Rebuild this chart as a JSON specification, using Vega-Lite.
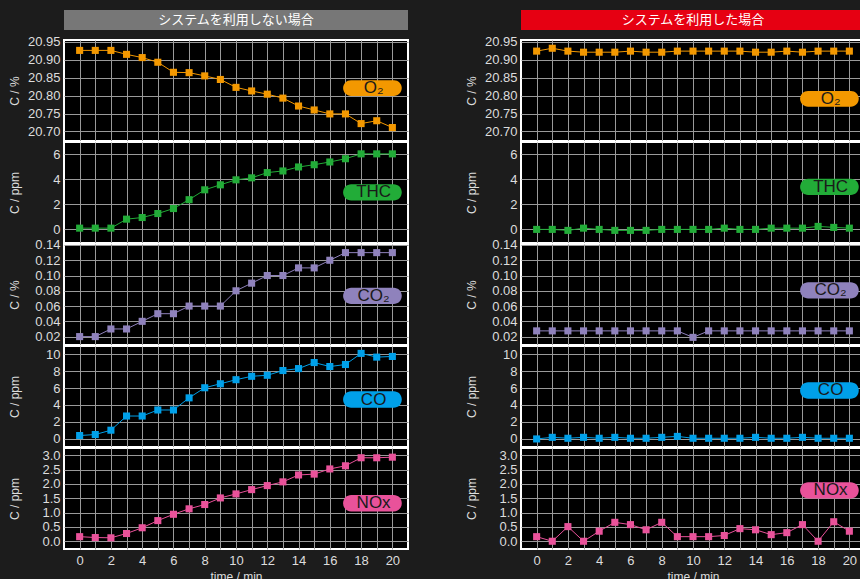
{
  "$schema": "https://vega.github.io/schema/vega-lite/v6.json",
  "background": "#1c1c1c",
  "padding": {"left": 7, "top": 10, "right": 0, "bottom": 0},
  "datasets": {
    "off": [
      {"t": 0, "O2": 20.926, "THC": 0.1, "CO2": 0.02, "CO": 0.4, "NOx": 0.16},
      {"t": 1, "O2": 20.926, "THC": 0.1, "CO2": 0.02, "CO": 0.52, "NOx": 0.13},
      {"t": 2, "O2": 20.926, "THC": 0.1, "CO2": 0.03, "CO": 1.03, "NOx": 0.12},
      {"t": 3, "O2": 20.915, "THC": 0.82, "CO2": 0.03, "CO": 2.7, "NOx": 0.27},
      {"t": 4, "O2": 20.906, "THC": 0.95, "CO2": 0.04, "CO": 2.7, "NOx": 0.47},
      {"t": 5, "O2": 20.893, "THC": 1.27, "CO2": 0.05, "CO": 3.41, "NOx": 0.72},
      {"t": 6, "O2": 20.865, "THC": 1.67, "CO2": 0.05, "CO": 3.41, "NOx": 0.94},
      {"t": 7, "O2": 20.864, "THC": 2.38, "CO2": 0.06, "CO": 4.84, "NOx": 1.13},
      {"t": 8, "O2": 20.855, "THC": 3.17, "CO2": 0.06, "CO": 6.03, "NOx": 1.28},
      {"t": 9, "O2": 20.845, "THC": 3.57, "CO2": 0.06, "CO": 6.5, "NOx": 1.51},
      {"t": 10, "O2": 20.823, "THC": 3.97, "CO2": 0.08, "CO": 6.98, "NOx": 1.65},
      {"t": 11, "O2": 20.813, "THC": 4.13, "CO2": 0.09, "CO": 7.38, "NOx": 1.8},
      {"t": 12, "O2": 20.804, "THC": 4.55, "CO2": 0.1, "CO": 7.5, "NOx": 1.94},
      {"t": 13, "O2": 20.793, "THC": 4.68, "CO2": 0.1, "CO": 8.06, "NOx": 2.07},
      {"t": 14, "O2": 20.771, "THC": 5.0, "CO2": 0.11, "CO": 8.29, "NOx": 2.31},
      {"t": 15, "O2": 20.76, "THC": 5.18, "CO2": 0.11, "CO": 9.0, "NOx": 2.34},
      {"t": 16, "O2": 20.749, "THC": 5.4, "CO2": 0.12, "CO": 8.53, "NOx": 2.52},
      {"t": 17, "O2": 20.749, "THC": 5.66, "CO2": 0.13, "CO": 8.77, "NOx": 2.63},
      {"t": 18, "O2": 20.722, "THC": 6.05, "CO2": 0.13, "CO": 10.08, "NOx": 2.91},
      {"t": 19, "O2": 20.73, "THC": 6.05, "CO2": 0.13, "CO": 9.64, "NOx": 2.91},
      {"t": 20, "O2": 20.711, "THC": 6.05, "CO2": 0.13, "CO": 9.72, "NOx": 2.93}
    ],
    "on": [
      {"t": 0, "O2": 20.924, "THC": 0, "CO2": 0.0275, "CO": 0, "NOx": 0.16},
      {"t": 1, "O2": 20.932, "THC": 0, "CO2": 0.0275, "CO": 0.19, "NOx": 0.0},
      {"t": 2, "O2": 20.924, "THC": -0.08, "CO2": 0.0275, "CO": 0.08, "NOx": 0.51},
      {"t": 3, "O2": 20.921, "THC": 0.1, "CO2": 0.0275, "CO": 0.19, "NOx": 0.0},
      {"t": 4, "O2": 20.921, "THC": 0, "CO2": 0.0275, "CO": 0.08, "NOx": 0.35},
      {"t": 5, "O2": 20.921, "THC": -0.08, "CO2": 0.0275, "CO": 0.19, "NOx": 0.66},
      {"t": 6, "O2": 20.924, "THC": -0.08, "CO2": 0.0275, "CO": 0.08, "NOx": 0.58},
      {"t": 7, "O2": 20.921, "THC": -0.08, "CO2": 0.0275, "CO": 0.08, "NOx": 0.4},
      {"t": 8, "O2": 20.921, "THC": 0, "CO2": 0.0275, "CO": 0.19, "NOx": 0.66},
      {"t": 9, "O2": 20.924, "THC": 0, "CO2": 0.0275, "CO": 0.3, "NOx": 0.16},
      {"t": 10, "O2": 20.924, "THC": 0, "CO2": 0.019, "CO": 0.08, "NOx": 0.16},
      {"t": 11, "O2": 20.924, "THC": 0, "CO2": 0.0275, "CO": 0.08, "NOx": 0.16},
      {"t": 12, "O2": 20.924, "THC": 0.1, "CO2": 0.0275, "CO": 0.08, "NOx": 0.2},
      {"t": 13, "O2": 20.924, "THC": 0, "CO2": 0.0275, "CO": 0.08, "NOx": 0.44},
      {"t": 14, "O2": 20.921, "THC": 0, "CO2": 0.0275, "CO": 0.19, "NOx": 0.4},
      {"t": 15, "O2": 20.921, "THC": 0.1, "CO2": 0.0275, "CO": 0.08, "NOx": 0.23},
      {"t": 16, "O2": 20.924, "THC": 0.1, "CO2": 0.0275, "CO": 0.08, "NOx": 0.3},
      {"t": 17, "O2": 20.921, "THC": 0.1, "CO2": 0.0275, "CO": 0.19, "NOx": 0.58},
      {"t": 18, "O2": 20.924, "THC": 0.24, "CO2": 0.0275, "CO": 0.08, "NOx": 0.0},
      {"t": 19, "O2": 20.924, "THC": 0.16, "CO2": 0.0275, "CO": 0.08, "NOx": 0.68},
      {"t": 20, "O2": 20.924, "THC": 0.1, "CO2": 0.0275, "CO": 0.08, "NOx": 0.35}
    ]
  },
  "spacing": 55,
  "hconcat": [
    {
      "spacing": 10,
      "bounds": "flush",
      "vconcat": [
        {
          "width": 344, "height": 20,
          "view": {"fill": "#777777", "stroke": null},
          "data": {"values": [{"title": "システムを利用しない場合"}]},
          "mark": {"type": "text", "color": "white", "fontSize": 13, "font": "Noto Sans CJK JP"},
          "encoding": {"text": {"field": "title"}}
        },
        {
          "spacing": 1,
          "bounds": "flush",
          "vconcat": [
            {
              "width": 344, "height": 101,
              "layer": [
                {"data": {"name": "off"}, "mark": {"type": "line", "color": "#f39800", "strokeWidth": 1},
                 "encoding": {
                   "x": {"field": "t", "type": "quantitative", "scale": {"domain": [-1, 21], "nice": false}, "axis": {"values": [0,1,2,3,4,5,6,7,8,9,10,11,12,13,14,15,16,17,18,19,20], "labels": false, "title": null}},
                   "y": {"field": "O2", "type": "quantitative", "scale": {"domain": [20.6735, 20.955], "nice": false, "zero": false}, "axis": {"title": "C / %", "values": [20.7, 20.75, 20.8, 20.85, 20.9, 20.95], "format": ".2f", "minExtent": 35, "maxExtent": 35, "labelPadding": 4, "titlePadding": 8}}}},
                {"data": {"name": "off"}, "mark": {"type": "point", "shape": "square", "filled": true, "size": 50, "opacity": 1, "color": "#f39800"},
                 "encoding": {
                   "x": {"field": "t", "type": "quantitative", "axis": {"values": [0,1,2,3,4,5,6,7,8,9,10,11,12,13,14,15,16,17,18,19,20], "labels": false, "title": null}},
                   "y": {"field": "O2", "type": "quantitative", "axis": {"title": "C / %", "values": [20.7, 20.75, 20.8, 20.85, 20.9, 20.95], "format": ".2f", "minExtent": 35, "maxExtent": 35, "labelPadding": 4, "titlePadding": 8}}}},
                {"data": {"values": [{"label": "O₂"}]}, "mark": {"type": "rect", "color": "#f39800", "cornerRadius": 8},
                 "encoding": {
                   "x": {"datum": 16.85, "axis": {"values": [0,1,2,3,4,5,6,7,8,9,10,11,12,13,14,15,16,17,18,19,20], "labels": false, "title": null}}, "x2": {"datum": 20.6},
                   "y": {"datum": 20.799, "axis": {"title": "C / %", "values": [20.7, 20.75, 20.8, 20.85, 20.9, 20.95], "format": ".2f", "minExtent": 35, "maxExtent": 35, "labelPadding": 4, "titlePadding": 8}}, "y2": {"datum": 20.843}}},
                {"data": {"values": [{"label": "O₂"}]}, "mark": {"type": "text", "color": "#1a1a1a", "fontSize": 17, "font": "Liberation Sans", "align": "center", "baseline": "middle"},
                 "encoding": {
                   "x": {"datum": 18.8, "axis": {"values": [0,1,2,3,4,5,6,7,8,9,10,11,12,13,14,15,16,17,18,19,20], "labels": false, "title": null}},
                   "y": {"datum": 20.821, "axis": {"title": "C / %", "values": [20.7, 20.75, 20.8, 20.85, 20.9, 20.95], "format": ".2f", "minExtent": 35, "maxExtent": 35, "labelPadding": 4, "titlePadding": 8}},
                   "text": {"field": "label"}}}
              ]
            },
            {
              "width": 344, "height": 101,
              "layer": [
                {"data": {"name": "off"}, "mark": {"type": "line", "color": "#22ac38", "strokeWidth": 1},
                 "encoding": {
                   "x": {"field": "t", "type": "quantitative", "scale": {"domain": [-1, 21], "nice": false}, "axis": {"values": [0,1,2,3,4,5,6,7,8,9,10,11,12,13,14,15,16,17,18,19,20], "labels": false, "title": null}},
                   "y": {"field": "THC", "type": "quantitative", "scale": {"domain": [-1.09, 7.0], "nice": false, "zero": false}, "axis": {"title": "C / ppm", "values": [0, 2, 4, 6], "minExtent": 35, "maxExtent": 35, "labelPadding": 4, "titlePadding": 8}}}},
                {"data": {"name": "off"}, "mark": {"type": "point", "shape": "square", "filled": true, "size": 50, "opacity": 1, "color": "#22ac38"},
                 "encoding": {
                   "x": {"field": "t", "type": "quantitative", "axis": {"values": [0,1,2,3,4,5,6,7,8,9,10,11,12,13,14,15,16,17,18,19,20], "labels": false, "title": null}},
                   "y": {"field": "THC", "type": "quantitative", "axis": {"title": "C / ppm", "values": [0, 2, 4, 6], "minExtent": 35, "maxExtent": 35, "labelPadding": 4, "titlePadding": 8}}}},
                {"data": {"values": [{"label": "THC"}]}, "mark": {"type": "rect", "color": "#22ac38", "cornerRadius": 8},
                 "encoding": {
                   "x": {"datum": 16.85, "axis": {"values": [0,1,2,3,4,5,6,7,8,9,10,11,12,13,14,15,16,17,18,19,20], "labels": false, "title": null}}, "x2": {"datum": 20.6},
                   "y": {"datum": 2.31, "axis": {"title": "C / ppm", "values": [0, 2, 4, 6], "minExtent": 35, "maxExtent": 35, "labelPadding": 4, "titlePadding": 8}}, "y2": {"datum": 3.61}}},
                {"data": {"values": [{"label": "THC"}]}, "mark": {"type": "text", "color": "#1a1a1a", "fontSize": 17, "font": "Liberation Sans", "align": "center", "baseline": "middle"},
                 "encoding": {
                   "x": {"datum": 18.8, "axis": {"values": [0,1,2,3,4,5,6,7,8,9,10,11,12,13,14,15,16,17,18,19,20], "labels": false, "title": null}},
                   "y": {"datum": 2.96, "axis": {"title": "C / ppm", "values": [0, 2, 4, 6], "minExtent": 35, "maxExtent": 35, "labelPadding": 4, "titlePadding": 8}},
                   "text": {"field": "label"}}}
              ]
            },
            {
              "width": 344, "height": 101,
              "layer": [
                {"data": {"name": "off"}, "mark": {"type": "line", "color": "#8f82bc", "strokeWidth": 1},
                 "encoding": {
                   "x": {"field": "t", "type": "quantitative", "scale": {"domain": [-1, 21], "nice": false}, "axis": {"values": [0,1,2,3,4,5,6,7,8,9,10,11,12,13,14,15,16,17,18,19,20], "labels": false, "title": null}},
                   "y": {"field": "CO2", "type": "quantitative", "scale": {"domain": [0.009, 0.1413], "nice": false, "zero": false}, "axis": {"title": "C / %", "values": [0.02, 0.04, 0.06, 0.08, 0.1, 0.12, 0.14], "format": ".2f", "minExtent": 35, "maxExtent": 35, "labelPadding": 4, "titlePadding": 8}}}},
                {"data": {"name": "off"}, "mark": {"type": "point", "shape": "square", "filled": true, "size": 50, "opacity": 1, "color": "#8f82bc"},
                 "encoding": {
                   "x": {"field": "t", "type": "quantitative", "axis": {"values": [0,1,2,3,4,5,6,7,8,9,10,11,12,13,14,15,16,17,18,19,20], "labels": false, "title": null}},
                   "y": {"field": "CO2", "type": "quantitative", "axis": {"title": "C / %", "values": [0.02, 0.04, 0.06, 0.08, 0.1, 0.12, 0.14], "format": ".2f", "minExtent": 35, "maxExtent": 35, "labelPadding": 4, "titlePadding": 8}}}},
                {"data": {"values": [{"label": "CO₂"}]}, "mark": {"type": "rect", "color": "#8f82bc", "cornerRadius": 8},
                 "encoding": {
                   "x": {"datum": 16.85, "axis": {"values": [0,1,2,3,4,5,6,7,8,9,10,11,12,13,14,15,16,17,18,19,20], "labels": false, "title": null}}, "x2": {"datum": 20.6},
                   "y": {"datum": 0.0626, "axis": {"title": "C / %", "values": [0.02, 0.04, 0.06, 0.08, 0.1, 0.12, 0.14], "format": ".2f", "minExtent": 35, "maxExtent": 35, "labelPadding": 4, "titlePadding": 8}}, "y2": {"datum": 0.084}}},
                {"data": {"values": [{"label": "CO₂"}]}, "mark": {"type": "text", "color": "#1a1a1a", "fontSize": 17, "font": "Liberation Sans", "align": "center", "baseline": "middle"},
                 "encoding": {
                   "x": {"datum": 18.8, "axis": {"values": [0,1,2,3,4,5,6,7,8,9,10,11,12,13,14,15,16,17,18,19,20], "labels": false, "title": null}},
                   "y": {"datum": 0.0733, "axis": {"title": "C / %", "values": [0.02, 0.04, 0.06, 0.08, 0.1, 0.12, 0.14], "format": ".2f", "minExtent": 35, "maxExtent": 35, "labelPadding": 4, "titlePadding": 8}},
                   "text": {"field": "label"}}}
              ]
            },
            {
              "width": 344, "height": 101,
              "layer": [
                {"data": {"name": "off"}, "mark": {"type": "line", "color": "#00a0e9", "strokeWidth": 1},
                 "encoding": {
                   "x": {"field": "t", "type": "quantitative", "scale": {"domain": [-1, 21], "nice": false}, "axis": {"values": [0,1,2,3,4,5,6,7,8,9,10,11,12,13,14,15,16,17,18,19,20], "labels": false, "title": null}},
                   "y": {"field": "CO", "type": "quantitative", "scale": {"domain": [-0.95, 10.95], "nice": false, "zero": false}, "axis": {"title": "C / ppm", "values": [0, 2, 4, 6, 8, 10], "minExtent": 35, "maxExtent": 35, "labelPadding": 4, "titlePadding": 8}}}},
                {"data": {"name": "off"}, "mark": {"type": "point", "shape": "square", "filled": true, "size": 50, "opacity": 1, "color": "#00a0e9"},
                 "encoding": {
                   "x": {"field": "t", "type": "quantitative", "axis": {"values": [0,1,2,3,4,5,6,7,8,9,10,11,12,13,14,15,16,17,18,19,20], "labels": false, "title": null}},
                   "y": {"field": "CO", "type": "quantitative", "axis": {"title": "C / ppm", "values": [0, 2, 4, 6, 8, 10], "minExtent": 35, "maxExtent": 35, "labelPadding": 4, "titlePadding": 8}}}},
                {"data": {"values": [{"label": "CO"}]}, "mark": {"type": "rect", "color": "#00a0e9", "cornerRadius": 8},
                 "encoding": {
                   "x": {"datum": 16.85, "axis": {"values": [0,1,2,3,4,5,6,7,8,9,10,11,12,13,14,15,16,17,18,19,20], "labels": false, "title": null}}, "x2": {"datum": 20.6},
                   "y": {"datum": 3.66, "axis": {"title": "C / ppm", "values": [0, 2, 4, 6, 8, 10], "minExtent": 35, "maxExtent": 35, "labelPadding": 4, "titlePadding": 8}}, "y2": {"datum": 5.62}}},
                {"data": {"values": [{"label": "CO"}]}, "mark": {"type": "text", "color": "#1a1a1a", "fontSize": 17, "font": "Liberation Sans", "align": "center", "baseline": "middle"},
                 "encoding": {
                   "x": {"datum": 18.8, "axis": {"values": [0,1,2,3,4,5,6,7,8,9,10,11,12,13,14,15,16,17,18,19,20], "labels": false, "title": null}},
                   "y": {"datum": 4.64, "axis": {"title": "C / ppm", "values": [0, 2, 4, 6, 8, 10], "minExtent": 35, "maxExtent": 35, "labelPadding": 4, "titlePadding": 8}},
                   "text": {"field": "label"}}}
              ]
            },
            {
              "width": 344, "height": 101,
              "layer": [
                {"data": {"name": "off"}, "mark": {"type": "line", "color": "#e9529a", "strokeWidth": 1},
                 "encoding": {
                   "x": {"field": "t", "type": "quantitative", "scale": {"domain": [-1, 21], "nice": false}, "axis": {"values": [0,1,2,3,4,5,6,7,8,9,10,11,12,13,14,15,16,17,18,19,20], "labelExpr": "datum.value % 2 === 0 ? datum.label : ''", "title": "time / min", "labelPadding": 5, "titlePadding": 4}},
                   "y": {"field": "NOx", "type": "quantitative", "scale": {"domain": [-0.27, 3.25], "nice": false, "zero": false}, "axis": {"title": "C / ppm", "values": [0, 0.5, 1, 1.5, 2, 2.5, 3], "format": ".1f", "minExtent": 35, "maxExtent": 35, "labelPadding": 4, "titlePadding": 8}}}},
                {"data": {"name": "off"}, "mark": {"type": "point", "shape": "square", "filled": true, "size": 50, "opacity": 1, "color": "#e9529a"},
                 "encoding": {
                   "x": {"field": "t", "type": "quantitative", "axis": {"values": [0,1,2,3,4,5,6,7,8,9,10,11,12,13,14,15,16,17,18,19,20], "labelExpr": "datum.value % 2 === 0 ? datum.label : ''", "title": "time / min", "labelPadding": 5, "titlePadding": 4}},
                   "y": {"field": "NOx", "type": "quantitative", "axis": {"title": "C / ppm", "values": [0, 0.5, 1, 1.5, 2, 2.5, 3], "format": ".1f", "minExtent": 35, "maxExtent": 35, "labelPadding": 4, "titlePadding": 8}}}},
                {"data": {"values": [{"label": "NOx"}]}, "mark": {"type": "rect", "color": "#e9529a", "cornerRadius": 8},
                 "encoding": {
                   "x": {"datum": 16.85, "axis": {"values": [0,1,2,3,4,5,6,7,8,9,10,11,12,13,14,15,16,17,18,19,20], "labelExpr": "datum.value % 2 === 0 ? datum.label : ''", "title": "time / min", "labelPadding": 5, "titlePadding": 4}}, "x2": {"datum": 20.6},
                   "y": {"datum": 1.04, "axis": {"title": "C / ppm", "values": [0, 0.5, 1, 1.5, 2, 2.5, 3], "format": ".1f", "minExtent": 35, "maxExtent": 35, "labelPadding": 4, "titlePadding": 8}}, "y2": {"datum": 1.61}}},
                {"data": {"values": [{"label": "NOx"}]}, "mark": {"type": "text", "color": "#1a1a1a", "fontSize": 17, "font": "Liberation Sans", "align": "center", "baseline": "middle"},
                 "encoding": {
                   "x": {"datum": 18.8, "axis": {"values": [0,1,2,3,4,5,6,7,8,9,10,11,12,13,14,15,16,17,18,19,20], "labelExpr": "datum.value % 2 === 0 ? datum.label : ''", "title": "time / min", "labelPadding": 5, "titlePadding": 4}},
                   "y": {"datum": 1.325, "axis": {"title": "C / ppm", "values": [0, 0.5, 1, 1.5, 2, 2.5, 3], "format": ".1f", "minExtent": 35, "maxExtent": 35, "labelPadding": 4, "titlePadding": 8}},
                   "text": {"field": "label"}}}
              ]
            }
          ]
        }
      ]
    },
    {
      "spacing": 10,
      "bounds": "flush",
      "vconcat": [
        {
          "width": 344, "height": 20,
          "view": {"fill": "#e60012", "stroke": null},
          "data": {"values": [{"title": "システムを利用した場合"}]},
          "mark": {"type": "text", "color": "white", "fontSize": 13, "font": "Noto Sans CJK JP"},
          "encoding": {"text": {"field": "title"}}
        },
        {
          "spacing": 1,
          "bounds": "flush",
          "vconcat": [
            {
              "width": 344, "height": 101,
              "layer": [
                {"data": {"name": "on"}, "mark": {"type": "line", "color": "#f39800", "strokeWidth": 1},
                 "encoding": {
                   "x": {"field": "t", "type": "quantitative", "scale": {"domain": [-1, 21], "nice": false}, "axis": {"values": [0,1,2,3,4,5,6,7,8,9,10,11,12,13,14,15,16,17,18,19,20], "labels": false, "title": null}},
                   "y": {"field": "O2", "type": "quantitative", "scale": {"domain": [20.6735, 20.955], "nice": false, "zero": false}, "axis": {"title": "C / %", "values": [20.7, 20.75, 20.8, 20.85, 20.9, 20.95], "format": ".2f", "minExtent": 35, "maxExtent": 35, "labelPadding": 4, "titlePadding": 8}}}},
                {"data": {"name": "on"}, "mark": {"type": "point", "shape": "square", "filled": true, "size": 50, "opacity": 1, "color": "#f39800"},
                 "encoding": {
                   "x": {"field": "t", "type": "quantitative", "axis": {"values": [0,1,2,3,4,5,6,7,8,9,10,11,12,13,14,15,16,17,18,19,20], "labels": false, "title": null}},
                   "y": {"field": "O2", "type": "quantitative", "axis": {"title": "C / %", "values": [20.7, 20.75, 20.8, 20.85, 20.9, 20.95], "format": ".2f", "minExtent": 35, "maxExtent": 35, "labelPadding": 4, "titlePadding": 8}}}},
                {"data": {"values": [{"label": "O₂"}]}, "mark": {"type": "rect", "color": "#f39800", "cornerRadius": 8},
                 "encoding": {
                   "x": {"datum": 16.85, "axis": {"values": [0,1,2,3,4,5,6,7,8,9,10,11,12,13,14,15,16,17,18,19,20], "labels": false, "title": null}}, "x2": {"datum": 20.6},
                   "y": {"datum": 20.769, "axis": {"title": "C / %", "values": [20.7, 20.75, 20.8, 20.85, 20.9, 20.95], "format": ".2f", "minExtent": 35, "maxExtent": 35, "labelPadding": 4, "titlePadding": 8}}, "y2": {"datum": 20.813}}},
                {"data": {"values": [{"label": "O₂"}]}, "mark": {"type": "text", "color": "#1a1a1a", "fontSize": 17, "font": "Liberation Sans", "align": "center", "baseline": "middle"},
                 "encoding": {
                   "x": {"datum": 18.8, "axis": {"values": [0,1,2,3,4,5,6,7,8,9,10,11,12,13,14,15,16,17,18,19,20], "labels": false, "title": null}},
                   "y": {"datum": 20.791, "axis": {"title": "C / %", "values": [20.7, 20.75, 20.8, 20.85, 20.9, 20.95], "format": ".2f", "minExtent": 35, "maxExtent": 35, "labelPadding": 4, "titlePadding": 8}},
                   "text": {"field": "label"}}}
              ]
            },
            {
              "width": 344, "height": 101,
              "layer": [
                {"data": {"name": "on"}, "mark": {"type": "line", "color": "#22ac38", "strokeWidth": 1},
                 "encoding": {
                   "x": {"field": "t", "type": "quantitative", "scale": {"domain": [-1, 21], "nice": false}, "axis": {"values": [0,1,2,3,4,5,6,7,8,9,10,11,12,13,14,15,16,17,18,19,20], "labels": false, "title": null}},
                   "y": {"field": "THC", "type": "quantitative", "scale": {"domain": [-1.09, 7.0], "nice": false, "zero": false}, "axis": {"title": "C / ppm", "values": [0, 2, 4, 6], "minExtent": 35, "maxExtent": 35, "labelPadding": 4, "titlePadding": 8}}}},
                {"data": {"name": "on"}, "mark": {"type": "point", "shape": "square", "filled": true, "size": 50, "opacity": 1, "color": "#22ac38"},
                 "encoding": {
                   "x": {"field": "t", "type": "quantitative", "axis": {"values": [0,1,2,3,4,5,6,7,8,9,10,11,12,13,14,15,16,17,18,19,20], "labels": false, "title": null}},
                   "y": {"field": "THC", "type": "quantitative", "axis": {"title": "C / ppm", "values": [0, 2, 4, 6], "minExtent": 35, "maxExtent": 35, "labelPadding": 4, "titlePadding": 8}}}},
                {"data": {"values": [{"label": "THC"}]}, "mark": {"type": "rect", "color": "#22ac38", "cornerRadius": 8},
                 "encoding": {
                   "x": {"datum": 16.85, "axis": {"values": [0,1,2,3,4,5,6,7,8,9,10,11,12,13,14,15,16,17,18,19,20], "labels": false, "title": null}}, "x2": {"datum": 20.6},
                   "y": {"datum": 2.75, "axis": {"title": "C / ppm", "values": [0, 2, 4, 6], "minExtent": 35, "maxExtent": 35, "labelPadding": 4, "titlePadding": 8}}, "y2": {"datum": 4.05}}},
                {"data": {"values": [{"label": "THC"}]}, "mark": {"type": "text", "color": "#1a1a1a", "fontSize": 17, "font": "Liberation Sans", "align": "center", "baseline": "middle"},
                 "encoding": {
                   "x": {"datum": 18.8, "axis": {"values": [0,1,2,3,4,5,6,7,8,9,10,11,12,13,14,15,16,17,18,19,20], "labels": false, "title": null}},
                   "y": {"datum": 3.4, "axis": {"title": "C / ppm", "values": [0, 2, 4, 6], "minExtent": 35, "maxExtent": 35, "labelPadding": 4, "titlePadding": 8}},
                   "text": {"field": "label"}}}
              ]
            },
            {
              "width": 344, "height": 101,
              "layer": [
                {"data": {"name": "on"}, "mark": {"type": "line", "color": "#8f82bc", "strokeWidth": 1},
                 "encoding": {
                   "x": {"field": "t", "type": "quantitative", "scale": {"domain": [-1, 21], "nice": false}, "axis": {"values": [0,1,2,3,4,5,6,7,8,9,10,11,12,13,14,15,16,17,18,19,20], "labels": false, "title": null}},
                   "y": {"field": "CO2", "type": "quantitative", "scale": {"domain": [0.009, 0.1413], "nice": false, "zero": false}, "axis": {"title": "C / %", "values": [0.02, 0.04, 0.06, 0.08, 0.1, 0.12, 0.14], "format": ".2f", "minExtent": 35, "maxExtent": 35, "labelPadding": 4, "titlePadding": 8}}}},
                {"data": {"name": "on"}, "mark": {"type": "point", "shape": "square", "filled": true, "size": 50, "opacity": 1, "color": "#8f82bc"},
                 "encoding": {
                   "x": {"field": "t", "type": "quantitative", "axis": {"values": [0,1,2,3,4,5,6,7,8,9,10,11,12,13,14,15,16,17,18,19,20], "labels": false, "title": null}},
                   "y": {"field": "CO2", "type": "quantitative", "axis": {"title": "C / %", "values": [0.02, 0.04, 0.06, 0.08, 0.1, 0.12, 0.14], "format": ".2f", "minExtent": 35, "maxExtent": 35, "labelPadding": 4, "titlePadding": 8}}}},
                {"data": {"values": [{"label": "CO₂"}]}, "mark": {"type": "rect", "color": "#8f82bc", "cornerRadius": 8},
                 "encoding": {
                   "x": {"datum": 16.85, "axis": {"values": [0,1,2,3,4,5,6,7,8,9,10,11,12,13,14,15,16,17,18,19,20], "labels": false, "title": null}}, "x2": {"datum": 20.6},
                   "y": {"datum": 0.0698, "axis": {"title": "C / %", "values": [0.02, 0.04, 0.06, 0.08, 0.1, 0.12, 0.14], "format": ".2f", "minExtent": 35, "maxExtent": 35, "labelPadding": 4, "titlePadding": 8}}, "y2": {"datum": 0.0912}}},
                {"data": {"values": [{"label": "CO₂"}]}, "mark": {"type": "text", "color": "#1a1a1a", "fontSize": 17, "font": "Liberation Sans", "align": "center", "baseline": "middle"},
                 "encoding": {
                   "x": {"datum": 18.8, "axis": {"values": [0,1,2,3,4,5,6,7,8,9,10,11,12,13,14,15,16,17,18,19,20], "labels": false, "title": null}},
                   "y": {"datum": 0.0805, "axis": {"title": "C / %", "values": [0.02, 0.04, 0.06, 0.08, 0.1, 0.12, 0.14], "format": ".2f", "minExtent": 35, "maxExtent": 35, "labelPadding": 4, "titlePadding": 8}},
                   "text": {"field": "label"}}}
              ]
            },
            {
              "width": 344, "height": 101,
              "layer": [
                {"data": {"name": "on"}, "mark": {"type": "line", "color": "#00a0e9", "strokeWidth": 1},
                 "encoding": {
                   "x": {"field": "t", "type": "quantitative", "scale": {"domain": [-1, 21], "nice": false}, "axis": {"values": [0,1,2,3,4,5,6,7,8,9,10,11,12,13,14,15,16,17,18,19,20], "labels": false, "title": null}},
                   "y": {"field": "CO", "type": "quantitative", "scale": {"domain": [-0.95, 10.95], "nice": false, "zero": false}, "axis": {"title": "C / ppm", "values": [0, 2, 4, 6, 8, 10], "minExtent": 35, "maxExtent": 35, "labelPadding": 4, "titlePadding": 8}}}},
                {"data": {"name": "on"}, "mark": {"type": "point", "shape": "square", "filled": true, "size": 50, "opacity": 1, "color": "#00a0e9"},
                 "encoding": {
                   "x": {"field": "t", "type": "quantitative", "axis": {"values": [0,1,2,3,4,5,6,7,8,9,10,11,12,13,14,15,16,17,18,19,20], "labels": false, "title": null}},
                   "y": {"field": "CO", "type": "quantitative", "axis": {"title": "C / ppm", "values": [0, 2, 4, 6, 8, 10], "minExtent": 35, "maxExtent": 35, "labelPadding": 4, "titlePadding": 8}}}},
                {"data": {"values": [{"label": "CO"}]}, "mark": {"type": "rect", "color": "#00a0e9", "cornerRadius": 8},
                 "encoding": {
                   "x": {"datum": 16.85, "axis": {"values": [0,1,2,3,4,5,6,7,8,9,10,11,12,13,14,15,16,17,18,19,20], "labels": false, "title": null}}, "x2": {"datum": 20.6},
                   "y": {"datum": 4.73, "axis": {"title": "C / ppm", "values": [0, 2, 4, 6, 8, 10], "minExtent": 35, "maxExtent": 35, "labelPadding": 4, "titlePadding": 8}}, "y2": {"datum": 6.69}}},
                {"data": {"values": [{"label": "CO"}]}, "mark": {"type": "text", "color": "#1a1a1a", "fontSize": 17, "font": "Liberation Sans", "align": "center", "baseline": "middle"},
                 "encoding": {
                   "x": {"datum": 18.8, "axis": {"values": [0,1,2,3,4,5,6,7,8,9,10,11,12,13,14,15,16,17,18,19,20], "labels": false, "title": null}},
                   "y": {"datum": 5.71, "axis": {"title": "C / ppm", "values": [0, 2, 4, 6, 8, 10], "minExtent": 35, "maxExtent": 35, "labelPadding": 4, "titlePadding": 8}},
                   "text": {"field": "label"}}}
              ]
            },
            {
              "width": 344, "height": 101,
              "layer": [
                {"data": {"name": "on"}, "mark": {"type": "line", "color": "#e9529a", "strokeWidth": 1},
                 "encoding": {
                   "x": {"field": "t", "type": "quantitative", "scale": {"domain": [-1, 21], "nice": false}, "axis": {"values": [0,1,2,3,4,5,6,7,8,9,10,11,12,13,14,15,16,17,18,19,20], "labelExpr": "datum.value % 2 === 0 ? datum.label : ''", "title": "time / min", "labelPadding": 5, "titlePadding": 4}},
                   "y": {"field": "NOx", "type": "quantitative", "scale": {"domain": [-0.27, 3.25], "nice": false, "zero": false}, "axis": {"title": "C / ppm", "values": [0, 0.5, 1, 1.5, 2, 2.5, 3], "format": ".1f", "minExtent": 35, "maxExtent": 35, "labelPadding": 4, "titlePadding": 8}}}},
                {"data": {"name": "on"}, "mark": {"type": "point", "shape": "square", "filled": true, "size": 50, "opacity": 1, "color": "#e9529a"},
                 "encoding": {
                   "x": {"field": "t", "type": "quantitative", "axis": {"values": [0,1,2,3,4,5,6,7,8,9,10,11,12,13,14,15,16,17,18,19,20], "labelExpr": "datum.value % 2 === 0 ? datum.label : ''", "title": "time / min", "labelPadding": 5, "titlePadding": 4}},
                   "y": {"field": "NOx", "type": "quantitative", "axis": {"title": "C / ppm", "values": [0, 0.5, 1, 1.5, 2, 2.5, 3], "format": ".1f", "minExtent": 35, "maxExtent": 35, "labelPadding": 4, "titlePadding": 8}}}},
                {"data": {"values": [{"label": "NOx"}]}, "mark": {"type": "rect", "color": "#e9529a", "cornerRadius": 8},
                 "encoding": {
                   "x": {"datum": 16.85, "axis": {"values": [0,1,2,3,4,5,6,7,8,9,10,11,12,13,14,15,16,17,18,19,20], "labelExpr": "datum.value % 2 === 0 ? datum.label : ''", "title": "time / min", "labelPadding": 5, "titlePadding": 4}}, "x2": {"datum": 20.6},
                   "y": {"datum": 1.49, "axis": {"title": "C / ppm", "values": [0, 0.5, 1, 1.5, 2, 2.5, 3], "format": ".1f", "minExtent": 35, "maxExtent": 35, "labelPadding": 4, "titlePadding": 8}}, "y2": {"datum": 2.06}}},
                {"data": {"values": [{"label": "NOx"}]}, "mark": {"type": "text", "color": "#1a1a1a", "fontSize": 17, "font": "Liberation Sans", "align": "center", "baseline": "middle"},
                 "encoding": {
                   "x": {"datum": 18.8, "axis": {"values": [0,1,2,3,4,5,6,7,8,9,10,11,12,13,14,15,16,17,18,19,20], "labelExpr": "datum.value % 2 === 0 ? datum.label : ''", "title": "time / min", "labelPadding": 5, "titlePadding": 4}},
                   "y": {"datum": 1.775, "axis": {"title": "C / ppm", "values": [0, 0.5, 1, 1.5, 2, 2.5, 3], "format": ".1f", "minExtent": 35, "maxExtent": 35, "labelPadding": 4, "titlePadding": 8}},
                   "text": {"field": "label"}}}
              ]
            }
          ]
        }
      ]
    }
  ],
  "config": {
    "view": {"stroke": "#ffffff", "strokeWidth": 2, "fill": "#000000"},
    "axis": {
      "labelColor": "#dddddd", "titleColor": "#dddddd",
      "labelFont": "Liberation Sans", "titleFont": "Liberation Sans",
      "labelFontSize": 13, "titleFontSize": 12, "titleFontWeight": "normal",
      "gridColor": "#9a9a9a", "gridWidth": 1, "gridOpacity": 1,
      "domain": false, "ticks": false
    }
  }
}
